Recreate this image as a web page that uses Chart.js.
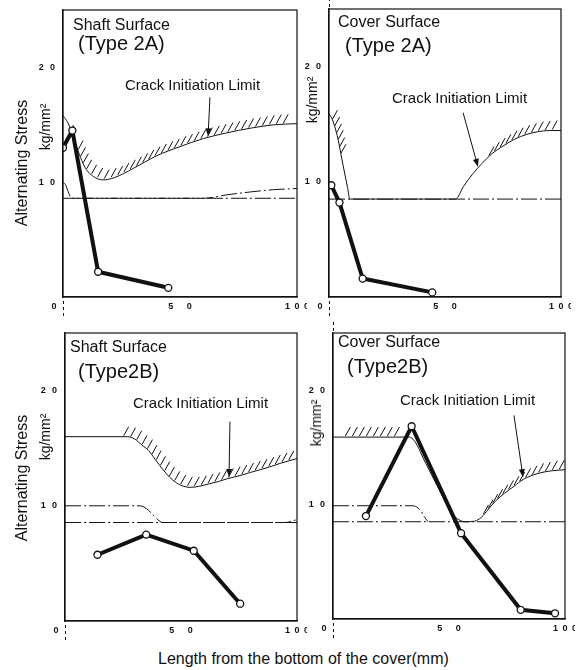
<!DOCTYPE html>
<html>
<head>
<meta charset="utf-8">
<script src="https://cdn.jsdelivr.net/npm/chart.js@4.4.1/dist/chart.umd.min.js"></script>
<style>
  body { margin: 0; background: #fff; width: 588px; height: 670px; position: relative; overflow: hidden;
         font-family: "Liberation Sans", Arial, sans-serif; color: #111; }
  canvas { position: absolute; }
  .t { position: absolute; white-space: nowrap; line-height: 1; }
  .r { position: absolute; white-space: nowrap; line-height: 1; transform: translate(-50%, -50%) rotate(-90deg); }
</style>
</head>
<body>
<canvas id="cA" width="279" height="324"></canvas>
<canvas id="cB" width="277" height="325"></canvas>
<canvas id="cC" width="277" height="325"></canvas>
<canvas id="cD" width="277" height="323"></canvas>

<div class="t" style="left:73px;top:17px;font-size:16px">Shaft Surface</div>
<div class="t" style="left:78px;top:33px;font-size:20px">(Type 2A)</div>
<div class="t" style="left:125px;top:77px;font-size:15px">Crack Initiation Limit</div>

<div class="t" style="left:338px;top:14px;font-size:16px">Cover Surface</div>
<div class="t" style="left:345px;top:35px;font-size:20px">(Type 2A)</div>
<div class="t" style="left:392px;top:90px;font-size:15px">Crack Initiation Limit</div>

<div class="t" style="left:70px;top:339px;font-size:16px">Shaft Surface</div>
<div class="t" style="left:78px;top:361px;font-size:20px">(Type2B)</div>
<div class="t" style="left:133px;top:395px;font-size:15px">Crack Initiation Limit</div>

<div class="t" style="left:338px;top:334px;font-size:16px">Cover Surface</div>
<div class="t" style="left:347px;top:356px;font-size:20px">(Type2B)</div>
<div class="t" style="left:400px;top:392px;font-size:15px">Crack Initiation Limit</div>

<div class="r" style="left:22px;top:163px;font-size:16px">Alternating Stress</div>
<div class="r" style="left:45px;top:127px;font-size:14px">kg/mm²</div>
<div class="r" style="left:312px;top:100px;font-size:14px">kg/mm²</div>
<div class="r" style="left:22px;top:478px;font-size:16px">Alternating Stress</div>
<div class="r" style="left:45px;top:437px;font-size:14px">kg/mm²</div>
<div class="r" style="left:316px;top:423px;font-size:14px">kg/mm²</div>

<div class="t" style="left:158px;top:651px;font-size:16px">Length from the bottom of the cover(mm)</div>

<script>
// measured stress (thick lines)
const shaftAX = [0, 4, 15, 45];
const shaftAY = [13.0, 14.5, 2.2, 0.8];
const coverAX = [1, 4.5, 14.5, 44.5];
const coverAY = [9.7, 8.2, 1.6, 0.4];
const shaftBX = [14, 35, 55.5, 75.5];
const shaftBY = [5.75, 7.5, 6.1, 1.5];
const coverBX = [14.2, 33.9, 55.2, 80.9, 95.7];
const coverBY = [9.0, 16.85, 7.5, 0.8, 0.5];

// crack initiation limit curves
const limitAX = [0, 2, 4, 6, 8, 10, 13, 17, 22, 30, 40, 50, 60, 70, 80, 90, 100];
const limitAY = [15.8, 15.2, 14.2, 13.0, 11.9, 11.1, 10.5, 10.2, 10.4, 11.2, 12.3, 13.1, 13.8, 14.3, 14.7, 15.0, 15.1];
const limitBX = [0, 1, 2, 4, 6, 8, 9, 54.5, 58, 62, 66, 70, 75, 80, 85, 90, 95, 100];
const limitBY = [15.9, 15.6, 15.1, 13.6, 11.5, 9.5, 8.5, 8.5, 9.6, 10.7, 11.6, 12.4, 13.1, 13.7, 14.1, 14.35, 14.45, 14.45];
const limitCX = [0, 27, 30, 33, 36, 39, 42, 45, 48, 51, 54, 58, 62, 66, 70, 75, 80, 87, 93, 100];
const limitCY = [16, 16, 15.8, 15.3, 14.8, 14.0, 13.2, 12.5, 12.0, 11.7, 11.6, 11.7, 11.9, 12.1, 12.35, 12.6, 12.9, 13.3, 13.7, 14.1];
const limitDX = [0, 33, 35, 37, 39, 41, 43, 45, 47, 49, 51, 53, 55, 57, 61, 64, 67, 70, 74, 78, 82, 88, 94, 100];
const limitDY = [15.9, 15.9, 15.6, 14.9, 14.0, 13.2, 12.4, 11.6, 10.8, 10.0, 9.3, 8.85, 8.6, 8.5, 8.55, 8.9, 9.6, 10.3, 11.0, 11.6, 12.2, 12.7, 12.95, 13.05];

// dash-dot reference lines
const baseAY = 8.6, baseBY = 8.5, baseCY = 8.55, baseDY = 8.5;
const upperAX = [0, 1, 2, 3, 4, 60, 70, 80, 90, 100];
const upperAY = [10, 9.8, 9.3, 8.8, 8.6, 8.6, 8.9, 9.15, 9.35, 9.45];
const upperCX = [0, 32, 34, 36, 38, 40, 42, 95, 100];
const upperCY = [10, 10, 9.9, 9.6, 9.2, 8.8, 8.55, 8.55, 8.8];
const upperDX = [0, 34, 36, 38, 39.5, 41];
const upperDY = [9.9, 9.9, 9.8, 9.4, 8.9, 8.5];

const xTicks = { 0: '0\u2003\u2003', 50: '5\u2003\u20020', 100: '1\u20020\u20020' };
const yTicks = { 10: '1\u2002\u20090', 20: '2\u2002\u20090' };

const INK = '#111';
const FONT = '"Liberation Sans", Arial, sans-serif';

const pts = (xs, ys) => xs.map((x, i) => ({ x, y: ys[i] }));

function interp(xs, ys, v) {
  for (let i = 1; i < xs.length; i++) {
    if (v <= xs[i]) {
      const t = (v - xs[i - 1]) / (xs[i] - xs[i - 1]);
      return ys[i - 1] + t * (ys[i] - ys[i - 1]);
    }
  }
  return ys[ys.length - 1];
}

const panels = [
  { id: 'cA', box: [63, 10, 297, 297], test: [shaftAX, shaftAY], limit: [limitAX, limitAY],
    dashes: [[[0, 100], [baseAY, baseAY]], [upperAX, upperAY]],
    hatch: [[6, 97]], arrow: [[62.8, 17.4], [62, 14.0]], top: false },
  { id: 'cB', box: [329, 9, 561, 297], test: [coverAX, coverAY], limit: [limitBX, limitBY],
    dashes: [[[0, 100], [baseBY, baseBY]]],
    hatch: [[1, 5.5], [68, 98]], arrow: [[57.8, 16.0], [64.2, 11.3]], top: true },
  { id: 'cC', box: [65, 333, 297, 621], test: [shaftBX, shaftBY], limit: [limitCX, limitCY],
    dashes: [[[0, 100], [baseCY, baseCY]], [upperCX, upperCY]],
    hatch: [[24, 98]], arrow: [[71.1, 17.3], [70.7, 12.5]], top: false },
  { id: 'cD', box: [333, 333, 565, 619], test: [coverBX, coverBY], limit: [limitDX, limitDY],
    dashes: [[[0, 100], [baseDY, baseDY]], [upperDX, upperDY]],
    hatch: [[4, 28], [64, 99]], arrow: [[78, 17.8], [81.9, 12.4]], top: true }
];

const decor = {
  id: 'decor',
  afterDatasetsDraw(chart) {
    const p = chart.options.plugins.decor;
    const { ctx, chartArea: a } = chart;
    const sx = chart.scales.x, sy = chart.scales.y;
    ctx.save();
    ctx.strokeStyle = INK;
    ctx.lineWidth = 1;
    // hatching on the limit curves
    const [lx, ly] = p.limit;
    p.hatch.forEach(([from, to]) => {
      let prev = null, acc = 0, next = 3;
      for (let v = from; v <= to; v += 0.05) {
        const q = [sx.getPixelForValue(v), sy.getPixelForValue(interp(lx, ly, v))];
        if (prev) acc += Math.hypot(q[0] - prev[0], q[1] - prev[1]);
        if (acc >= next) {
          ctx.beginPath();
          ctx.moveTo(q[0], q[1] - 1);
          ctx.lineTo(q[0] + 5, q[1] - 10);
          ctx.stroke();
          next += 7;
        }
        prev = q;
      }
    });
    // arrow to the limit curve
    const [s, e] = p.arrow;
    const x0 = sx.getPixelForValue(s[0]), y0 = sy.getPixelForValue(s[1]);
    const x1 = sx.getPixelForValue(e[0]), y1 = sy.getPixelForValue(e[1]);
    const ang = Math.atan2(y1 - y0, x1 - x0);
    ctx.beginPath();
    ctx.moveTo(x0, y0);
    ctx.lineTo(x1 - 5 * Math.cos(ang), y1 - 5 * Math.sin(ang));
    ctx.stroke();
    ctx.fillStyle = INK;
    ctx.beginPath();
    ctx.moveTo(x1, y1);
    ctx.lineTo(x1 - 8 * Math.cos(ang) + 3 * Math.sin(ang), y1 - 8 * Math.sin(ang) - 3 * Math.cos(ang));
    ctx.lineTo(x1 - 8 * Math.cos(ang) - 3 * Math.sin(ang), y1 - 8 * Math.sin(ang) + 3 * Math.cos(ang));
    ctx.closePath();
    ctx.fill();
    ctx.restore();
  },
  afterDraw(chart) {
    const p = chart.options.plugins.decor;
    const { ctx, chartArea: a } = chart;
    ctx.save();
    ctx.strokeStyle = INK;
    ctx.lineWidth = 1.2;
    ctx.strokeRect(a.left, a.top, a.right - a.left, a.bottom - a.top);
    // small dashed marks at x = 0
    const x0 = Math.round(chart.scales.x.getPixelForValue(0)) + 0.5;
    ctx.lineWidth = 1;
    ctx.setLineDash([3, 3]);
    ctx.beginPath();
    ctx.moveTo(x0, a.bottom + 4);
    ctx.lineTo(x0, a.bottom + 21);
    if (p.top) {
      ctx.moveTo(x0, a.top - 11);
      ctx.lineTo(x0, a.top - 1);
    }
    ctx.stroke();
    ctx.restore();
  }
};

const tickFont = { size: 9, weight: 'bold', family: FONT };

panels.forEach(pn => {
  const [l, t, r, b] = pn.box;
  const cv = document.getElementById(pn.id);
  cv.style.left = (l - 35) + 'px';
  cv.style.top = (t - 12) + 'px';

  const datasets = [
    { data: pts(pn.test[0], pn.test[1]), borderColor: INK, borderWidth: 4, tension: 0,
      pointRadius: 3.5, pointBackgroundColor: '#fff', pointBorderColor: INK, pointBorderWidth: 1.3 },
    { data: pts(pn.limit[0], pn.limit[1]), borderColor: INK, borderWidth: 1,
      cubicInterpolationMode: 'monotone', pointRadius: 0 }
  ];
  pn.dashes.forEach(([xs, ys]) => datasets.push({
    data: pts(xs, ys), borderColor: INK, borderWidth: 1, borderDash: [16, 3, 2, 3],
    cubicInterpolationMode: 'monotone', pointRadius: 0
  }));

  new Chart(cv, {
    type: 'line',
    data: { datasets },
    options: {
      responsive: false,
      animation: false,
      devicePixelRatio: 1,
      layout: { padding: { left: 0, top: 12, right: 10, bottom: 0 } },
      plugins: { legend: { display: false }, tooltip: { enabled: false },
        decor: { limit: pn.limit, hatch: pn.hatch, arrow: pn.arrow, top: pn.top } },
      scales: {
        x: {
          type: 'linear', min: 0, max: 100,
          grid: { display: false, drawTicks: false },
          border: { display: true, color: INK, width: 1.2 },
          ticks: { stepSize: 50, autoSkip: false, maxRotation: 0, padding: 4, color: INK, font: tickFont,
                   callback: v => xTicks[v] || '' },
          afterFit: s => { s.height = 25; s.paddingLeft = 0; s.paddingRight = 0; }
        },
        y: {
          min: 0, max: 25,
          grid: { display: false, drawTicks: false },
          border: { display: true, color: INK, width: 1.2 },
          ticks: { stepSize: 10, autoSkip: false, padding: 8, color: INK, font: tickFont,
                   callback: v => yTicks[v] || '' },
          afterFit: s => { s.width = 35; s.paddingTop = 0; s.paddingBottom = 0; }
        }
      }
    },
    plugins: [decor]
  });
});
</script>
</body>
</html>
